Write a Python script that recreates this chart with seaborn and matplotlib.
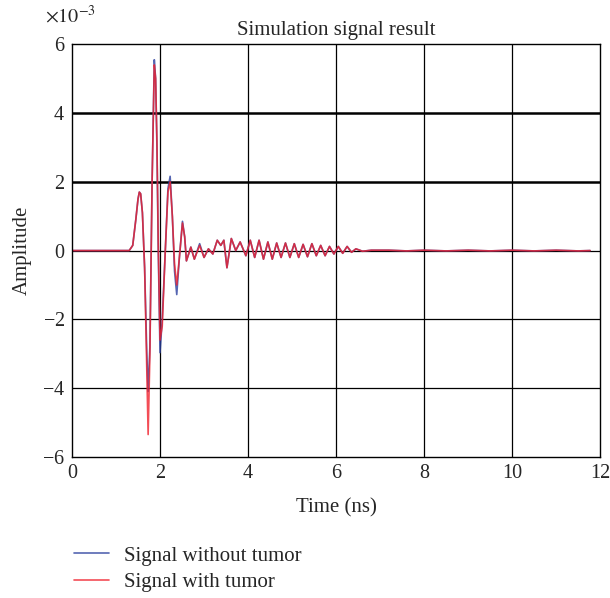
import numpy as np
import pandas as pd
import seaborn as sns
import matplotlib.pyplot as plt

# Time (ns) of the read-off key points of both traces
time_ns = [0.0, 1.0, 1.3, 1.38, 1.45, 1.5, 1.53, 1.56, 1.6, 1.65, 1.7, 1.73, 1.77,
           1.82, 1.87, 1.9, 1.93, 1.96, 2.0, 2.05, 2.12, 2.18, 2.23, 2.28, 2.33,
           2.38, 2.44, 2.51, 2.56, 2.6, 2.7, 2.78, 2.9, 3.0, 3.1, 3.2, 3.3,
           3.38, 3.45, 3.52, 3.62, 3.72, 3.82, 3.95, 4.05, 4.15, 4.25, 4.35,
           4.45, 4.55, 4.65, 4.75, 4.85, 4.95, 5.05, 5.15, 5.25, 5.35, 5.45,
           5.55, 5.65, 5.75, 5.85, 5.95, 6.05, 6.15, 6.25, 6.35, 6.45, 6.6,
           6.8, 7.2, 7.6, 8.0, 8.5, 9.0, 9.5, 10.0, 10.5, 11.0, 11.5, 11.77]

# Amplitude in units of 1e-3
amp_without = [0.0, 0.0, 0.0, 0.15, 0.9, 1.5, 1.7, 1.65, 1.1, -0.5, -3.0, -4.1, -2.8,
               2.0, 5.55, 5.0, 3.0, 0.0, -2.97, -2.0, 0.0, 1.8, 2.16, 1.0, -0.6,
               -1.28, -0.2, 0.85, 0.4, -0.3, 0.1, -0.25, 0.2, -0.2, 0.05, -0.1, 0.3,
               0.15, 0.3, -0.5, 0.35, 0.0, 0.25, -0.15, 0.3, -0.2, 0.3, -0.25,
               0.25, -0.25, 0.22, -0.2, 0.22, -0.2, 0.2, -0.2, 0.18, -0.18, 0.2,
               -0.15, 0.15, -0.15, 0.12, -0.1, 0.12, -0.08, 0.12, -0.05, 0.05, -0.02,
               0.01, 0.01, -0.01, 0.01, -0.01, 0.01, -0.01, 0.01, -0.01, 0.01, -0.01, 0.0]

amp_with = [0.0, 0.0, 0.0, 0.15, 0.9, 1.5, 1.7, 1.65, 1.1, -0.5, -3.5, -5.35, -3.0,
            2.0, 5.4, 5.0, 3.2, 0.2, -2.6, -2.2, 0.0, 1.7, 2.0, 1.0, -0.4,
            -1.0, -0.2, 0.8, 0.4, -0.3, 0.1, -0.25, 0.15, -0.2, 0.05, -0.1, 0.3,
            0.15, 0.3, -0.5, 0.35, 0.0, 0.25, -0.15, 0.3, -0.2, 0.3, -0.25,
            0.25, -0.25, 0.22, -0.2, 0.22, -0.2, 0.2, -0.2, 0.18, -0.18, 0.2,
            -0.15, 0.15, -0.15, 0.12, -0.1, 0.12, -0.08, 0.12, -0.05, 0.05, -0.02,
            0.01, 0.01, -0.01, 0.01, -0.01, 0.01, -0.01, 0.01, -0.01, 0.01, -0.01, 0.0]

x_ticks = [0, 2, 4, 6, 8, 10, 12]
y_ticks = [-6, -4, -2, 0, 2, 4, 6]

sns.set_style("white")
plt.rcParams['font.family'] = ['Liberation Serif', 'DejaVu Serif']
plt.rcParams['mathtext.fontset'] = 'stix'

df = pd.DataFrame({'Time': time_ns,
                   'without': np.array(amp_without) * 1e-3,
                   'with': np.array(amp_with) * 1e-3})

fig = plt.figure(figsize=(6.1, 5.98), dpi=100)
ax = fig.add_axes([0.118, 0.236, 0.866, 0.69])

sns.lineplot(data=df, x='Time', y='without', ax=ax, color='#2a3f9e',
             linewidth=1.2, alpha=0.8, sort=False, label='Signal without tumor')
sns.lineplot(data=df, x='Time', y='with', ax=ax, color='#f0202c',
             linewidth=1.2, alpha=0.8, sort=False, label='Signal with tumor')

ax.set_xlim(0, 12)
ax.set_ylim(-6e-3, 6e-3)
ax.set_xticks(x_ticks)
ax.set_yticks([v * 1e-3 for v in y_ticks])
ax.ticklabel_format(axis='y', style='sci', scilimits=(0, 0), useMathText=True)
ax.yaxis.get_offset_text().set_visible(False)
ax.text(-0.052, 1.052, r'$\times10^{-3}$', transform=ax.transAxes,
        fontsize=14.5, ha='left', va='baseline')
ax.tick_params(length=0, labelsize=14.5, pad=5)

# grid, with the two heavier lines seen in the reference
for xv in x_ticks[1:-1]:
    ax.axvline(xv, color='black', linewidth=0.9, zorder=0)
for yv in y_ticks[1:-1]:
    lw = 1.8 if yv in (2, 4) else 0.9
    ax.axhline(yv * 1e-3, color='black', linewidth=lw, zorder=0)
for sp in ax.spines.values():
    sp.set_color('black')
    sp.set_linewidth(1.0)

ax.set_title('Simulation signal result', fontsize=15, pad=7)
ax.set_xlabel('Time (ns)', fontsize=15, labelpad=11)
ax.set_ylabel('Amplitude', fontsize=15, labelpad=7)

handles, labels = ax.get_legend_handles_labels()
ax.get_legend().remove()
fig.legend(handles, labels, loc='upper left', bbox_to_anchor=(0.09, 0.118),
           frameon=False, fontsize=15, handlelength=1.7, handletextpad=0.7,
           labelspacing=0.32)

fig.savefig('out.png', dpi=100)
